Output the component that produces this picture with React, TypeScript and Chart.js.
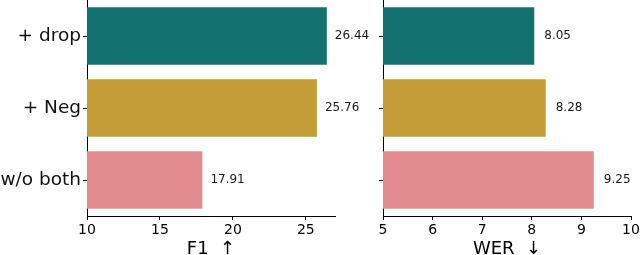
import React, { useEffect, useRef } from "react";
import { Chart, registerables } from "chart.js";

Chart.register(...registerables);

const categories = ["+ drop", "+ Neg", "w/o both"];
const f1Values = [26.44, 25.76, 17.91];
const werValues = [8.05, 8.28, 9.25];
const f1Ticks = [10, 15, 20, 25];
const werTicks = [5, 6, 7, 8, 9, 10];
const barColors = ["#137170", "#c39b37", "#e38c8f"];
const FONT = "'DejaVu Sans', sans-serif";

const valueLabelPlugin = {
  id: "valueLabels",
  afterDatasetsDraw(chart: any, _args: any, opts: any) {
    const ctx = chart.ctx;
    const meta = chart.getDatasetMeta(0);
    const data = chart.data.datasets[0].data;
    ctx.save();
    ctx.font = `12px ${FONT}`;
    ctx.fillStyle = "#1a1a1a";
    ctx.textBaseline = "middle";
    ctx.textAlign = "left";
    meta.data.forEach((el: any, i: number) => {
      ctx.fillText(Number(data[i]).toFixed(2), el.x + (opts.offset || 8), el.y);
    });
    ctx.restore();
  },
};

function makeConfig(
  values: number[],
  ticks: number[],
  min: number,
  max: number,
  title: string,
  showY: boolean,
  yWidth: number,
  padRight: number,
  offset: number
): any {
  return {
    type: "bar",
    data: {
      labels: categories,
      datasets: [
        {
          data: values,
          backgroundColor: barColors,
          borderWidth: 0,
          barPercentage: 0.8,
          categoryPercentage: 1,
        },
      ],
    },
    plugins: [valueLabelPlugin],
    options: {
      indexAxis: "y",
      responsive: false,
      animation: false,
      layout: { padding: { top: 0, right: padRight, bottom: 0, left: 0 } },
      plugins: {
        legend: { display: false },
        tooltip: { enabled: false },
        valueLabels: { offset },
      },
      scales: {
        x: {
          type: "linear",
          min,
          max,
          afterBuildTicks: (scale: any) => {
            scale.ticks = ticks.map((v) => ({ value: v }));
          },
          afterFit: (scale: any) => {
            scale.height = 39;
            scale.paddingLeft = 0;
            scale.paddingRight = 0;
          },
          grid: {
            display: true,
            drawOnChartArea: false,
            drawTicks: true,
            tickLength: 4,
            color: "#000",
          },
          border: { display: true, color: "#000", width: 1 },
          ticks: {
            color: "#000",
            font: { family: FONT, size: 14 },
            padding: 2,
            maxRotation: 0,
            autoSkip: false,
          },
          title: {
            display: true,
            text: title,
            color: "#000",
            font: { family: FONT, size: 18 },
            padding: { top: 0, bottom: -5 },
          },
        },
        y: {
          type: "category",
          afterFit: (scale: any) => {
            scale.width = yWidth;
            scale.paddingTop = 0;
            scale.paddingBottom = 0;
          },
          grid: {
            display: true,
            drawOnChartArea: false,
            drawTicks: true,
            tickLength: 4,
            offset: false,
            color: "#000",
          },
          border: { display: true, color: "#000", width: 1 },
          ticks: {
            display: showY,
            color: "#111",
            font: { family: FONT, size: 18.5 },
            padding: 2,
          },
        },
      },
    },
  };
}

export default function App() {
  const leftRef = useRef<HTMLCanvasElement>(null);
  const rightRef = useRef<HTMLCanvasElement>(null);

  useEffect(() => {
    const c1 = new Chart(
      leftRef.current!,
      makeConfig(f1Values, f1Ticks, 10, 27, "F1  ↑", true, 87, 305, 8)
    );
    const c2 = new Chart(
      rightRef.current!,
      makeConfig(werValues, werTicks, 5, 10, "WER  ↓", false, 43, 9, 10)
    );
    return () => {
      c1.destroy();
      c2.destroy();
    };
  }, []);

  return (
    <div
      style={{
        position: "absolute",
        left: 0,
        top: 0,
        width: 640,
        height: 255,
        background: "#fff",
      }}
    >
      <canvas
        ref={leftRef}
        width={640}
        height={255}
        style={{ position: "absolute", left: 0, top: 0, width: 640, height: 255 }}
      />
      <canvas
        ref={rightRef}
        width={300}
        height={255}
        style={{ position: "absolute", left: 340, top: 0, width: 300, height: 255 }}
      />
    </div>
  );
}
